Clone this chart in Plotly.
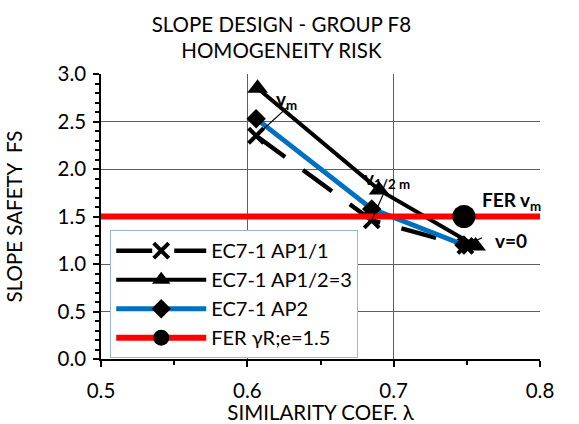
import plotly.graph_objects as go

# ---- data ----
lam_ap11 = [0.606, 0.685, 0.749]
fs_ap11 = [2.35, 1.46, 1.19]

lam_ap12 = [0.607, 0.690, 0.756]
fs_ap12 = [2.85, 1.78, 1.19]

lam_ap2 = [0.606, 0.685, 0.748]
fs_ap2 = [2.53, 1.58, 1.20]

fer_line_x = [0.5, 0.8]
fer_line_y = [1.5, 1.5]
fer_pt_x = [0.748]
fer_pt_y = [1.5]

names = ["EC7-1 AP1/1", "EC7-1 AP1/2=3", "EC7-1 AP2", "FER γR;e=1.5"]

FONT = "Lato, DejaVu Sans, sans-serif"

fig = go.Figure()

fig.add_trace(go.Scatter(
    x=lam_ap11, y=fs_ap11, name=names[0], mode="lines+markers",
    line=dict(color="black", width=4.5, dash="36px,22px"),
    marker=dict(symbol="x-thin", size=15, color="black",
                line=dict(color="black", width=4)),
))
fig.add_trace(go.Scatter(
    x=lam_ap12, y=fs_ap12, name=names[1], mode="lines+markers",
    line=dict(color="black", width=4),
    marker=dict(symbol="triangle-up", size=18, color="black"),
))
fig.add_trace(go.Scatter(
    x=lam_ap2, y=fs_ap2, name=names[2], mode="lines+markers",
    line=dict(color="#0070C0", width=5),
    marker=dict(symbol="diamond", size=15, color="black"),
))
fig.add_trace(go.Scatter(
    x=fer_line_x, y=fer_line_y, mode="lines", showlegend=False,
    line=dict(color="#FF0000", width=6), legendgroup="fer",
))
fig.add_trace(go.Scatter(
    x=fer_pt_x, y=fer_pt_y, name=names[3], mode="lines+markers",
    line=dict(color="#FF0000", width=6), legendgroup="fer",
    marker=dict(symbol="circle", size=23, color="black"),
))

# labels
label_font = dict(family=FONT, size=19, color="black")
ann = []
def lab(x, y, text):
    ann.append(dict(x=x, y=y, text=text, showarrow=False, xanchor="left",
                    yanchor="middle", font=label_font))
lab(0.6185, 2.73, "<b>v<sub>m</sub></b>")
lab(0.6786, 1.90, "<b>v<sub>1/2 m</sub></b>")
lab(0.7593, 1.66, "<b>FER v<sub>m</sub></b>")
lab(0.7680, 1.25, "<b>v=0</b>")

def leader(x, y, ax, ay):
    ann.append(dict(x=x, y=y, text="", showarrow=True, arrowhead=0,
                    arrowwidth=1.2, arrowcolor="black", ax=ax, ay=ay,
                    standoff=0, startstandoff=0))
leader(lam_ap11[0], fs_ap11[0], 33, -30)
leader(lam_ap11[1], fs_ap11[1], 12, -27)
leader(lam_ap11[2], fs_ap11[2], 18, -9)

fig.update_layout(
    width=579, height=424,
    margin=dict(l=101, r=39, t=74, b=65, pad=0, autoexpand=False),
    paper_bgcolor="white", plot_bgcolor="white",
    font=dict(family=FONT, size=19, color="black"),
    title=dict(text="SLOPE DESIGN - GROUP F8<br>HOMOGENEITY RISK",
               x=0.486, xref="container", xanchor="center",
               y=0.925, yref="container", yanchor="middle",
               font=dict(family=FONT, size=20.5, color="black")),
    xaxis=dict(range=[0.5, 0.8], dtick=0.1, tick0=0.5, tickformat=".1f",
               automargin=False,
               showgrid=True, gridcolor="#5f5f5f", gridwidth=1,
               showline=True, linecolor="black", linewidth=1.5,
               ticks="outside", ticklen=6, tickcolor="black", tickwidth=1.5,
               minor=dict(dtick=0.05, ticks="outside", ticklen=4,
                          tickcolor="black", tickwidth=1.5, showgrid=False),
               ticklabelstandoff=7, zeroline=False,
               tickfont=dict(family=FONT, size=20.5),
               title=dict(text="SIMILARITY COEF. λ", standoff=1,
                          font=dict(family=FONT, size=20.5))),
    yaxis=dict(range=[0, 3.0], dtick=0.5, tick0=0, tickformat=".1f",
               automargin=False,
               showgrid=True, gridcolor="#5f5f5f", gridwidth=1,
               showline=True, linecolor="black", linewidth=1.5,
               ticks="outside", ticklen=6, tickcolor="black", tickwidth=1.5,
               minor=dict(dtick=0.1, ticks="outside", ticklen=4,
                          tickcolor="black", tickwidth=1.5, showgrid=False),
               ticklabelstandoff=3, zeroline=False,
               tickfont=dict(family=FONT, size=20.5),
               title=dict(text="SLOPE SAFETY  FS", standoff=29,
                          font=dict(family=FONT, size=20.5))),
    legend=dict(x=0.021, y=0.452, xanchor="left", yanchor="top",
                bgcolor="white", bordercolor="#9db5d9", borderwidth=1,
                font=dict(family=FONT, size=20, color="black"),
                itemwidth=90, entrywidth=275, entrywidthmode="pixels",
                tracegroupgap=0),
    annotations=ann,
    showlegend=True,
)

fig.write_html("out.html")
